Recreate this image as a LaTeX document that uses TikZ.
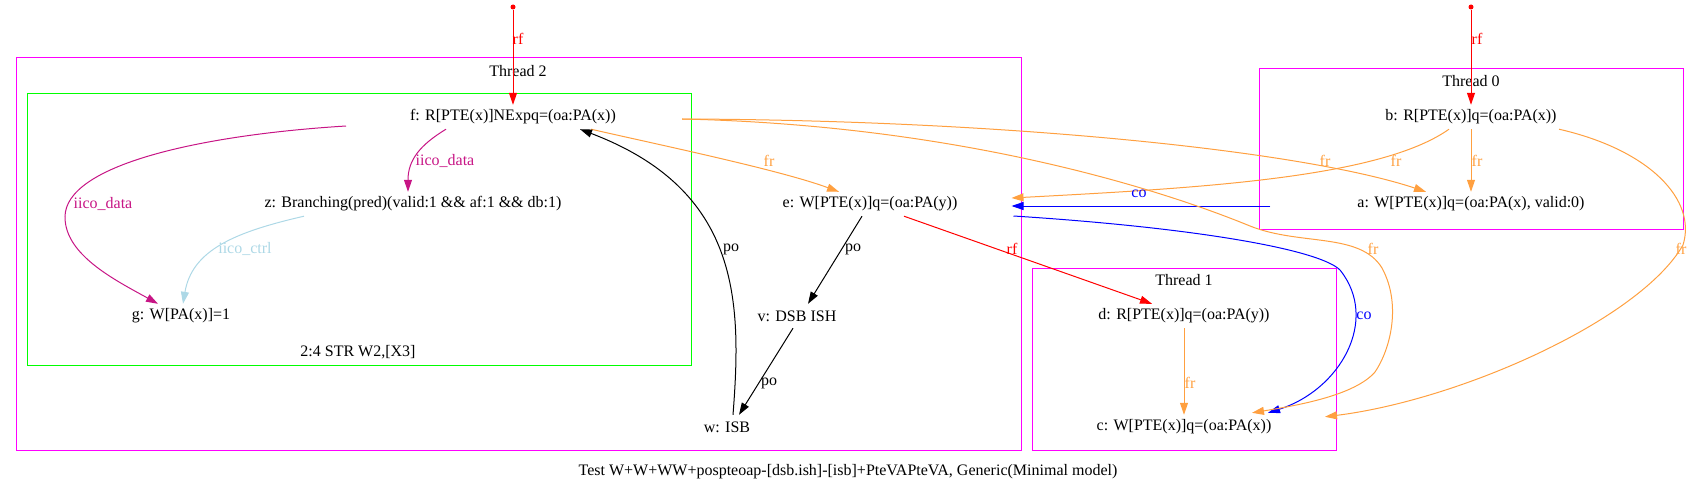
\documentclass[tikz,border=0pt]{standalone}
\usepackage{fontspec}
\setmainfont{Liberation Serif}
\usetikzlibrary{arrows.meta}
\definecolor{frc}{RGB}{255,160,64}
\definecolor{idata}{RGB}{199,21,133}
\definecolor{ictrl}{RGB}{173,216,230}
\definecolor{mag}{RGB}{255,0,255}
\definecolor{grn}{RGB}{0,255,0}
\tikzset{
  txt/.style={inner sep=0pt, font=\fontsize{16}{18}\selectfont},
  ev/.style={txt, minimum height=24pt},
  lbl/.style={txt},
  cluster/.style={draw=#1, line width=1pt, inner sep=0pt},
  edge/.style={draw=#1, line width=1pt, -{Triangle[length=12pt,width=8pt]}},
  dotn/.style={circle, fill=red, inner sep=0pt, minimum size=5pt},
}
\begin{document}
\begin{tikzpicture}[x=1pt,y=-1pt]
\useasboundingbox (0,0) rectangle (1695,492);
% clusters
\node[cluster=mag, minimum width=1005pt, minimum height=392pt] (T2) at (518.5,254) {};
\node[cluster=grn, minimum width=664pt, minimum height=271pt] (G) at (359,229.5) {};
\node[cluster=mag, minimum width=424pt, minimum height=160pt] (T0) at (1471,149) {};
\node[cluster=mag, minimum width=304pt, minimum height=182pt] (T1) at (1184,359) {};
\node[txt] (t2l) at (518,71) {Thread 2};
\node[txt] (t0l) at (1471,81) {Thread 0};
\node[txt] (t1l) at (1184,280) {Thread 1};
\node[txt] (gl) at (358,352) {2:4 STR W2,[X3]};
\node[txt] (cap) at (848,472) {Test W+W+WW+pospteoap-[dsb.ish]-[isb]+PteVAPteVA, Generic(Minimal model)};
% events
\node[ev] (f) at (513,117) {f: R[PTE(x)]NExpq=(oa:PA(x))};
\node[ev] (z) at (413,204) {z: Branching(pred)(valid:1 \&\& af:1 \&\& db:1)};
\node[ev] (g) at (181,316) {g: W[PA(x)]=1};
\node[ev] (e) at (870,204) {e: W[PTE(x)]q=(oa:PA(y))};
\node[ev] (v) at (797,316) {v: DSB ISH};
\node[ev] (w) at (727,427) {w: ISB};
\node[ev] (b) at (1471,117) {b: R[PTE(x)]q=(oa:PA(x))};
\node[ev] (a) at (1471,204) {a: W[PTE(x)]q=(oa:PA(x), valid:0)};
\node[ev] (d) at (1184,316) {d: R[PTE(x)]q=(oa:PA(y))};
\node[ev] (c) at (1184,427) {c: W[PTE(x)]q=(oa:PA(x))};
\node[dotn] (s1) at (513,7) {};
\node[dotn] (s2) at (1471,7) {};
% edges
\draw[edge=red] (s1) -- (f.north);
\draw[edge=red] (s2) -- (b.north);
\draw[edge=idata] ([xshift=-67pt]f.south) .. controls (420,145) and (408,160) .. ([xshift=-5pt]z.north);
\draw[edge=idata] ([xshift=-167pt,yshift=-9pt]f.center) .. controls (200,135) and (65,165) .. (65,217) .. controls (65,255) and (115,280) .. ([xshift=-23pt]g.north);
\draw[edge=ictrl] ([xshift=-109pt]z.south) .. controls (235,232) and (192,250) .. ([xshift=2pt]g.north);
\draw[edge=frc] ([xshift=78pt]f.south) .. controls (660,145) and (780,170) .. ([xshift=-31pt]e.north);
\draw[edge=black] ([xshift=6pt]w.north) .. controls (742,300) and (740,190) .. ([xshift=67pt]f.south);
\draw[edge=black] ([xshift=-8pt]e.south) -- ([xshift=11pt]v.north);
\draw[edge=black] ([xshift=-4pt]v.south) -- ([xshift=12pt]w.north);
\draw[edge=red] ([xshift=34pt]e.south) -- ([xshift=-32pt]d.north);
\draw[edge=frc] (d.south) -- (c.north);
\draw[edge=frc] (b.south) -- (a.north);
\draw[edge=frc] ([xshift=-22pt]b.south) .. controls (1380,178) and (1200,188) .. ([xshift=54pt,yshift=6pt]e.east);
\draw[edge=blue] ([xshift=-87pt,yshift=-2pt]a.west) -- ([xshift=54pt,yshift=-2pt]e.east);
\draw[edge=blue] ([xshift=56pt,yshift=-12pt]e.east) .. controls (1200,228) and (1320,250) .. (1340,270) .. controls (1380,320) and (1340,390) .. ([xshift=84pt,yshift=2pt]c.north);
\draw[edge=frc] ([xshift=66pt,yshift=-2pt]f.east) .. controls (1000,120) and (1300,150) .. ([xshift=-45pt]a.north);
\draw[edge=frc] ([xshift=66pt,yshift=-2pt]f.east) .. controls (950,125) and (1150,185) .. (1250,226) .. controls (1300,246) and (1360,232) .. (1382,268) .. controls (1402,305) and (1390,350) .. (1375,372) .. controls (1355,395) and (1300,405) .. ([xshift=68pt,yshift=2pt]c.north);
\draw[edge=frc] ([xshift=88pt]b.south) .. controls (1650,150) and (1697,200) .. (1683,245) .. controls (1640,320) and (1460,400) .. ([xshift=141pt,yshift=-2pt]c.north);
% edge labels
\node[lbl, text=red] (l1) at (518,39) {rf};
\node[lbl, text=red] (l2) at (1477,39) {rf};
\node[lbl, text=idata] (l3) at (445,161) {iico\_data};
\node[lbl, text=idata] (l4) at (103,204) {iico\_data};
\node[lbl, text=ictrl] (l5) at (245,249) {iico\_ctrl};
\node[lbl, text=frc] (l6) at (769,161) {fr};
\node[lbl] (l7) at (731,249) {po};
\node[lbl] (l8) at (853,249) {po};
\node[lbl] (l9) at (769,383) {po};
\node[lbl, text=red] (l10) at (1012,249) {rf};
\node[lbl, text=frc] (l11) at (1190,383) {fr};
\node[lbl, text=frc] (l12) at (1477,161) {fr};
\node[lbl, text=frc] (l13) at (1396,161) {fr};
\node[lbl, text=blue] (l14) at (1139,194) {co};
\node[lbl, text=blue] (l15) at (1364,316) {co};
\node[lbl, text=frc] (l16) at (1325,161) {fr};
\node[lbl, text=frc] (l17) at (1373,249) {fr};
\node[lbl, text=frc] (l18) at (1681,249) {fr};
\end{tikzpicture}
\end{document}
